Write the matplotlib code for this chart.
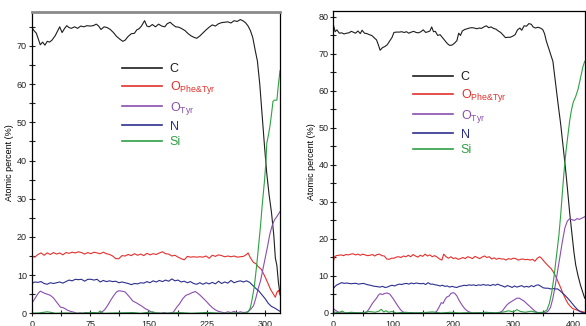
import matplotlib
matplotlib.use("Agg")
import matplotlib.pyplot as plt
from matplotlib.ticker import MultipleLocator

plt.rcParams['font.family'] = ['Liberation Sans', 'DejaVu Sans']
plt.rcParams['mathtext.fontset'] = 'custom'
plt.rcParams['mathtext.rm'] = 'Liberation Sans'
plt.rcParams['mathtext.it'] = 'Liberation Sans:italic'

# ---- left panel data ----
left_c_x = [0, 3, 6, 9, 11, 14, 17, 20, 23, 26, 30, 33, 36, 39, 42, 45, 48, 51, 55, 59, 63, 67, 71, 75, 79,
            83, 86, 89, 93, 97, 101, 105, 109, 113, 117, 120, 124, 128, 132, 135, 138, 141, 145, 148, 151,
            155, 159, 163, 167, 171, 174, 178, 181, 185, 189, 193, 197, 201, 205, 209, 212, 216, 220, 224,
            228, 232, 236, 240, 244, 248, 252, 256, 260, 264, 268, 272, 275, 278, 281, 284, 287, 290, 293,
            296, 299, 302, 305, 308, 311, 313, 315, 317, 319]
left_c_y = [74.9, 74.0, 73.3, 71.5, 70.3, 71.0, 70.2, 71.2, 71.0, 71.5, 72.6, 73.8, 75.0, 73.5, 74.5, 75.3,
            74.8, 74.6, 75.0, 74.6, 75.2, 75.0, 75.3, 75.2, 75.3, 75.7, 75.2, 74.3, 75.0, 74.8, 74.3, 73.5,
            72.5, 71.8, 71.2, 71.5, 72.5, 73.2, 73.3, 74.2, 74.5, 75.2, 76.6, 75.2, 75.0, 75.6, 75.0, 75.7,
            75.2, 75.0, 75.8, 76.2, 75.6, 75.0, 74.9, 74.5, 74.0, 73.2, 72.6, 72.2, 72.0, 72.6, 73.4, 74.2,
            74.9, 75.5, 75.2, 75.8, 76.1, 76.2, 76.3, 76.0, 76.6, 76.4, 76.9, 76.5, 76.0, 75.2, 74.0, 72.2,
            69.0, 66.0, 60.0, 52.0, 44.0, 36.6, 31.0, 26.5, 20.5, 14.5, 12.5, 8.0, 5.0]

left_o_x = [0, 4, 8, 12, 16, 20, 24, 28, 32, 36, 40, 44, 48, 52, 56, 60, 64, 68, 72, 76, 80, 84, 88, 92,
            96, 100, 104, 108, 112, 116, 120, 124, 128, 132, 136, 140, 144, 148, 152, 156, 160, 164, 168,
            172, 176, 180, 184, 188, 192, 196, 200, 204, 208, 212, 216, 220, 224, 228, 232, 236, 240, 244,
            248, 252, 256, 260, 264, 268, 272, 276, 278, 281, 285, 288, 291, 295, 298, 301, 304, 307, 310,
            313, 315, 317, 319]
left_o_y = [15.0, 14.7, 15.4, 15.8, 15.2, 15.8, 15.4, 15.9, 15.5, 15.8, 15.3, 15.9, 15.7, 16.0, 15.8, 16.1,
            15.9, 15.5, 15.9, 15.6, 16.0, 15.8, 15.6, 16.0, 15.6, 15.4, 15.0, 14.3, 14.3, 15.1, 15.0, 15.4,
            15.1, 15.6, 15.2, 15.5, 15.1, 15.7, 15.3, 15.6, 15.4, 15.8, 16.1, 15.6, 15.5, 15.0, 15.2, 14.7,
            14.3, 14.0, 14.9, 14.7, 14.8, 14.7, 14.8, 14.7, 15.0, 14.4, 15.2, 14.9, 15.3, 15.1, 14.8, 15.0,
            14.8, 15.0, 14.7, 14.8, 14.9, 15.4, 15.8, 14.5, 13.3, 13.0, 12.2, 11.5, 10.3, 9.0, 7.6, 6.2,
            5.2, 4.2, 5.5, 6.0, 4.8]

left_n_x = [0, 4, 8, 12, 16, 20, 24, 28, 32, 36, 40, 44, 48, 52, 56, 60, 64, 68, 72, 76, 80, 84, 88, 92,
            96, 100, 104, 108, 112, 116, 120, 124, 128, 132, 136, 140, 144, 148, 152, 156, 160, 164, 168,
            172, 176, 180, 184, 188, 192, 196, 200, 204, 208, 212, 216, 220, 224, 228, 232, 236, 240, 244,
            248, 252, 256, 260, 264, 268, 272, 276, 280, 284, 288, 292, 296, 300, 304, 308, 312, 316, 319]
left_n_y = [7.8, 8.2, 8.1, 8.3, 7.8, 7.6, 8.0, 7.8, 8.0, 8.2, 7.9, 8.3, 8.7, 8.5, 8.9, 8.8, 8.9, 8.4, 8.9,
            8.9, 8.7, 8.9, 8.2, 8.6, 8.3, 8.5, 8.3, 8.4, 8.0, 8.2, 8.0, 7.8, 7.5, 7.8, 7.7, 8.0, 7.9, 8.3,
            8.0, 8.5, 8.2, 8.6, 8.3, 8.7, 8.4, 9.0, 8.5, 8.7, 8.2, 8.4, 8.0, 8.3, 7.8, 7.6, 8.0, 7.6, 8.0,
            7.7, 8.1, 7.7, 8.4, 7.8, 8.2, 7.9, 8.6, 8.0, 8.3, 8.5, 8.2, 8.5, 8.1, 7.3, 6.5, 5.8, 4.8, 3.8,
            2.6, 1.8, 1.4, 0.9, 0.5]

left_t_x = [0, 3, 6, 9, 11, 14, 17, 20, 24, 28, 31, 34, 37, 40, 43, 46, 50, 54, 58, 62, 66, 70, 74, 78,
            82, 86, 90, 94, 98, 102, 106, 109, 112, 116, 120, 123, 126, 130, 134, 138, 142, 146, 150, 154,
            158, 162, 166, 170, 174, 178, 182, 186, 190, 194, 198, 202, 206, 210, 213, 216, 220, 224, 228,
            232, 236, 240, 244, 248, 252, 256, 260, 264, 268, 272, 276, 279, 282, 285, 288, 291, 294, 297,
            300, 303, 306, 309, 312, 315, 317, 319]
left_t_y = [2.6, 3.5, 4.5, 5.4, 5.8, 5.5, 5.2, 5.0, 4.7, 4.0, 3.2, 2.4, 1.6, 1.5, 1.2, 0.8, 0.5, 0.3, 0.0,
            0.1, 0.0, 0.2, 0.0, 0.1, 0.0, 0.0, 0.3, 1.0, 2.2, 3.6, 4.8, 5.6, 5.9, 5.8, 5.6, 4.9, 4.2, 3.2,
            2.8, 2.3, 1.8, 1.2, 0.8, 0.3, 0.0, 0.1, 0.0, 0.2, 0.0, 0.1, 0.3, 1.5, 2.5, 3.8, 4.7, 5.0, 5.4,
            5.7, 5.3, 4.8, 4.0, 3.2, 2.3, 1.5, 0.9, 0.5, 0.3, 0.1, 0.4, 0.2, 0.5, 0.1, 0.4, 0.2, 0.3, 0.6,
            1.2, 2.0, 4.0, 6.5, 8.5, 11.5, 14.5, 17.5, 20.8, 23.0, 24.5, 25.3, 26.0, 26.6]

left_s_x = [0, 10, 20, 26, 30, 45, 60, 80, 85, 88, 92, 110, 130, 140, 155, 160, 170, 190, 205, 225, 245,
            260, 272, 278, 281, 283, 286, 289, 291, 294, 296, 299, 301, 302, 304, 306, 308, 310, 312, 315,
            317, 319]
left_s_y = [0.0, 0.1, 0.4, 0.2, 0.0, 0.1, 0.0, 0.2, 0.1, 0.6, 0.0, 0.1, 0.2, 0.0, 0.4, 0.1, 0.0, 0.2, 0.0,
            0.2, 0.0, 0.1, 0.0, 0.3, 1.5, 3.5, 7.0, 12.5, 16.6, 23.0, 28.0, 34.5, 40.0, 44.5, 46.5, 48.9,
            52.0, 55.5, 55.8, 55.8, 60.0, 63.5]

# ---- right panel data ----
right_c_x = [0, 3, 6, 10, 14, 18, 22, 26, 30, 33, 37, 41, 45, 48, 52, 56, 60, 64, 68, 72, 75, 78, 82, 86,
             90, 94, 98, 101, 105, 110, 114, 118, 122, 126, 130, 134, 138, 142, 146, 150, 154, 158, 161,
             164, 167, 170, 174, 178, 182, 186, 190, 194, 198, 202, 206, 209, 212, 215, 219, 223, 227, 231,
             235, 239, 243, 247, 251, 255, 259, 263, 267, 271, 275, 279, 283, 287, 291, 295, 299, 303, 307,
             311, 314, 318, 322, 326, 330, 333, 337, 341, 345, 349, 352, 355, 358, 362, 366, 369, 372, 375,
             379, 383, 387, 390, 394, 398, 401, 404, 408, 412, 416, 419]
right_c_y = [78.0, 76.0, 76.5, 75.6, 75.7, 75.4, 75.6, 75.7, 76.1, 75.9, 75.6, 76.2, 75.5, 76.4, 75.6,
             75.5, 75.2, 75.0, 74.4, 73.8, 72.5, 71.0, 71.7, 72.0, 72.5, 73.5, 74.5, 75.8, 75.9, 75.9,
             76.0, 75.8, 76.0, 75.6, 75.9, 76.1, 75.8, 75.7, 76.0, 76.5, 75.8, 76.0, 76.2, 77.3, 76.0,
             76.1, 75.0, 75.2, 74.4, 73.6, 72.8, 72.3, 72.4, 72.9, 73.6, 75.6, 75.0, 76.2, 76.6, 76.8,
             77.0, 77.1, 77.0, 76.8, 77.0, 76.9, 77.3, 77.6, 77.1, 77.3, 76.9, 76.7, 76.2, 75.8, 75.1,
             74.4, 74.5, 74.5, 74.8, 75.2, 76.5, 77.0, 76.4, 77.6, 77.5, 78.2, 78.0, 77.3, 77.0, 77.2,
             77.0, 76.6, 75.5, 73.5, 72.0, 70.0, 68.0, 64.0, 60.0, 56.0, 51.0, 45.0, 39.0, 34.0, 27.0,
             21.0, 16.5, 13.0, 10.0, 7.5, 5.5, 4.0]

right_o_x = [0, 2, 5, 9, 13, 17, 21, 25, 29, 33, 37, 41, 45, 49, 53, 57, 61, 65, 69, 73, 77, 81, 85, 89,
             93, 97, 101, 105, 109, 113, 117, 121, 125, 129, 133, 137, 141, 145, 149, 153, 157, 161, 165,
             169, 173, 177, 181, 184, 188, 192, 196, 200, 204, 208, 212, 216, 220, 224, 228, 232, 236, 240,
             244, 248, 252, 256, 260, 264, 268, 272, 276, 280, 284, 288, 292, 296, 300, 304, 308, 312, 316,
             320, 324, 328, 332, 336, 340, 344, 347, 351, 355, 359, 363, 367, 371, 375, 379, 383, 387, 391,
             395, 399, 404, 409, 414, 419]
right_o_y = [13.8, 15.2, 15.5, 15.6, 15.7, 15.5, 15.8, 15.7, 15.9, 16.0, 15.7, 15.9, 15.6, 15.9, 15.7,
             15.5, 15.6, 15.8, 15.4, 15.8, 15.9, 15.5, 15.4, 14.6, 14.5, 14.8, 14.8, 15.1, 15.2, 15.0,
             15.4, 15.2, 15.6, 15.2, 15.8, 15.4, 15.1, 15.6, 15.3, 15.9, 15.4, 15.7, 15.2, 15.5, 15.1,
             14.6, 14.3, 15.9, 15.2, 14.8, 15.2, 14.7, 14.9, 14.5, 14.7, 15.0, 14.7, 15.2, 15.0, 14.7,
             15.3, 15.0, 14.7, 15.1, 15.4, 15.0, 15.2, 14.6, 14.9, 14.5, 14.8, 14.6, 14.6, 14.3, 14.7,
             14.5, 14.8, 14.7, 14.3, 14.5, 14.6, 14.4, 14.5, 14.3, 14.5, 14.0, 14.8, 15.2, 14.8, 14.0,
             13.3, 12.6, 12.0, 11.0, 9.8, 8.3, 6.8, 5.2, 3.8, 2.6, 1.8, 1.2, 0.9, 0.6, 0.4, 0.2]

right_n_x = [0, 3, 6, 10, 14, 18, 22, 26, 30, 34, 38, 42, 46, 50, 54, 58, 62, 66, 70, 74, 78, 82, 86, 90,
             94, 98, 102, 106, 110, 114, 118, 122, 126, 130, 134, 138, 142, 146, 150, 154, 158, 162, 166,
             170, 174, 178, 182, 186, 190, 194, 198, 202, 206, 210, 214, 218, 222, 226, 230, 234, 238, 242,
             246, 250, 254, 258, 262, 266, 270, 274, 278, 282, 286, 290, 294, 298, 302, 306, 310, 314, 318,
             322, 326, 330, 334, 338, 342, 346, 350, 354, 358, 362, 366, 370, 374, 378, 382, 386, 390, 394,
             398, 402, 406, 410, 414, 419]
right_n_y = [6.6, 7.2, 7.6, 7.9, 8.2, 8.0, 8.1, 8.0, 7.9, 8.0, 8.0, 7.8, 7.9, 8.0, 7.8, 7.6, 7.5, 7.3, 7.2,
             7.1, 7.0, 7.2, 6.9, 7.0, 7.3, 7.5, 7.3, 7.6, 7.8, 7.7, 7.9, 8.0, 7.8, 8.1, 7.9, 8.1, 8.0, 7.9,
             8.0, 7.7, 8.2, 7.8, 7.8, 7.6, 7.5, 7.3, 7.5, 7.2, 7.3, 7.0, 7.2, 7.0, 6.9, 7.2, 7.3, 7.5, 7.4,
             7.6, 7.5, 7.6, 7.4, 7.6, 7.5, 7.7, 7.5, 7.6, 7.4, 7.7, 7.5, 7.8, 7.5, 7.3, 7.0, 7.4, 7.2, 6.9,
             7.3, 7.0, 7.2, 7.4, 7.0, 7.2, 7.0, 7.4, 7.1, 7.5, 7.6, 7.2, 6.8, 6.7, 6.7, 6.5, 6.6, 6.5, 6.5,
             6.0, 5.4, 4.8, 4.1, 3.4, 2.6, 1.8, 1.1, 0.5, 0.2, 0.0]

right_t_x = [0, 3, 6, 10, 16, 25, 35, 45, 52, 56, 60, 64, 68, 72, 75, 78, 82, 86, 90, 94, 97, 100, 104,
             108, 112, 116, 120, 130, 140, 150, 160, 168, 172, 176, 180, 183, 186, 189, 193, 196, 200, 203,
             206, 209, 212, 216, 220, 224, 228, 232, 240, 250, 260, 270, 278, 282, 286, 290, 294, 298, 302,
             306, 310, 314, 318, 322, 326, 330, 334, 338, 342, 348, 354, 358, 362, 366, 370, 374, 378, 382,
             386, 390, 394, 398, 402, 406, 410, 414, 419]
right_t_y = [1.2, 0.8, 0.5, 0.1, 0.0, 0.0, 0.1, 0.0, 0.0, 0.3, 1.2, 2.3, 3.2, 4.0, 4.8, 5.2, 5.0, 5.3, 5.4,
             5.1, 4.5, 3.8, 2.8, 1.8, 0.9, 0.3, 0.0, 0.1, 0.0, 0.1, 0.0, 0.0, 0.4, 1.5, 2.8, 2.6, 3.6, 4.3,
             4.6, 5.3, 5.5, 5.2, 4.6, 3.6, 2.8, 1.8, 1.0, 0.5, 0.2, 0.0, 0.1, 0.0, 0.1, 0.0, 0.2, 0.6, 1.5,
             2.3, 2.8, 3.2, 3.6, 4.0, 4.0, 3.6, 3.2, 2.6, 2.0, 1.4, 0.8, 0.3, 0.1, 0.0, 0.1, 0.5, 1.5, 4.0,
             7.5, 11.5, 15.5, 19.5, 23.0, 24.8, 25.5, 25.2, 25.0, 25.5, 25.3, 25.6, 26.0]

right_s_x = [0, 8, 15, 20, 30, 40, 50, 60, 70, 76, 80, 84, 88, 92, 98, 105, 120, 135, 150, 165, 180, 195,
             210, 225, 240, 255, 270, 285, 292, 300, 306, 312, 320, 330, 340, 350, 356, 360, 364, 368, 372,
             376, 379, 382, 385, 388, 391, 394, 397, 400, 404, 408, 412, 416, 419]
right_s_y = [0.3, 0.1, 0.5, 0.0, 0.2, 0.0, 0.1, 0.4, 0.2, 0.5, 1.0, 0.3, 0.6, 0.2, 0.4, 0.0, 0.2, 0.0, 0.1,
             0.3, 0.0, 0.2, 0.0, 0.1, 0.0, 0.2, 0.0, 0.3, 0.6, 0.3, 0.9, 0.4, 0.2, 0.5, 0.1, 0.2, 0.8, 2.5,
             5.5, 10.0, 15.5, 21.0, 26.5, 33.0, 39.0, 44.0, 48.0, 52.0, 54.9, 57.0, 58.5, 60.5, 63.5, 66.5,
             68.0]

labels = ['C', r'O$_{\mathrm{Phe&Tyr}}$', r'O$_{\mathrm{Tyr}}$', 'N', 'Si']
colors = ['#1e1e1e', '#e2302c', '#8a4db0', '#2c2f8f', '#2ea043']

W, H = 586, 326
fig = plt.figure(figsize=(W / 100, H / 100), dpi=100)

ax1 = fig.add_axes([31.7 / W, (H - 313.3) / H, (280 - 31.7) / W, (313.3 - 12.3) / H])
ax2 = fig.add_axes([333.3 / W, (H - 313) / H, (585 - 333.3) / W, (313 - 11) / H])

panels = [
    (ax1, [(left_c_x, left_c_y), (left_o_x, left_o_y), (left_t_x, left_t_y), (left_n_x, left_n_y),
           (left_s_x, left_s_y)], (0, 319), (0, 78.8), 75, (0.364, 0.83)),
    (ax2, [(right_c_x, right_c_y), (right_o_x, right_o_y), (right_t_x, right_t_y), (right_n_x, right_n_y),
           (right_s_x, right_s_y)], (0, 419.5), (0, 81.6), 100, (0.317, 0.80)),
]

for ax, series, xl, yl, xstep, anchor in panels:
    for (xs, ys), lab, col in zip(series, labels, colors):
        ax.plot(xs, ys, color=col, lw=0.8, label=lab)
    ax.set_xlim(*xl)
    ax.set_ylim(*yl)
    ax.xaxis.set_major_locator(MultipleLocator(xstep))
    ax.xaxis.set_minor_locator(MultipleLocator(xstep / 2))
    ax.yaxis.set_major_locator(MultipleLocator(10))
    ax.yaxis.set_minor_locator(MultipleLocator(5))
    ax.tick_params(which='both', direction='inout', length=4, width=0.8, labelsize=6.5, pad=1.5,
                   colors='#222222')
    ax.tick_params(axis='x', pad=3)
    ax.set_ylabel('Atomic percent (%)', fontsize=6.5, labelpad=2)
    for s in ax.spines.values():
        s.set_linewidth(0.9)
    leg = ax.legend(loc='upper left', bbox_to_anchor=anchor, frameon=False, fontsize=9,
                    handlelength=3.2, handletextpad=0.6, labelspacing=0.3, borderpad=0,
                    borderaxespad=0, labelcolor='linecolor')
    for h in leg.get_lines():
        h.set_linewidth(1.2)

ax1.spines['top'].set_color('#8a8a8a')
ax1.spines['top'].set_linewidth(2)

fig.savefig('out.png', dpi=100)
